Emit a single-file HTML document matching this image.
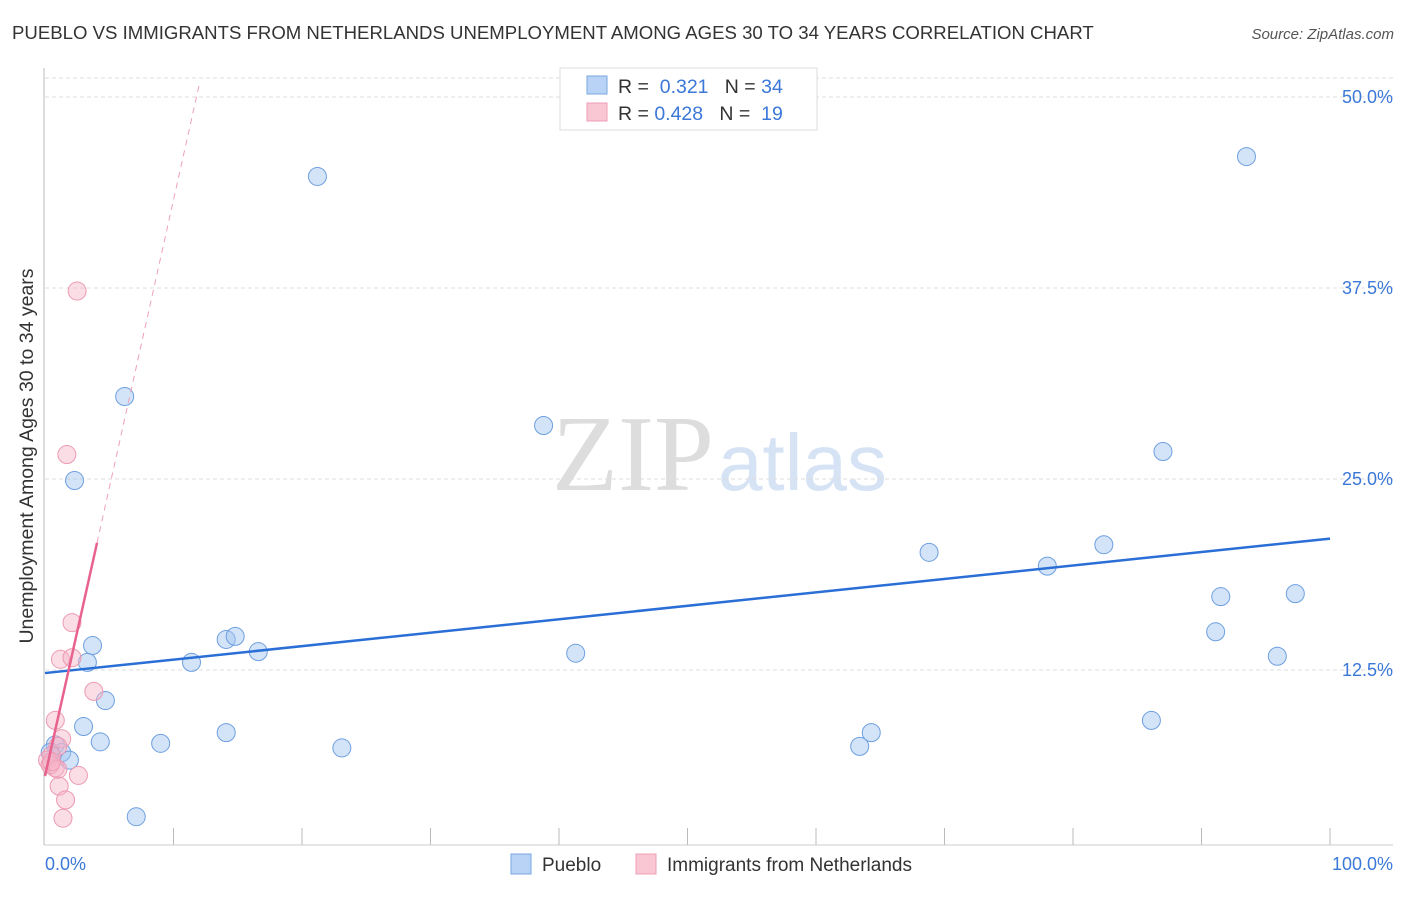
<!DOCTYPE html>
<html><head><meta charset="utf-8"><style>
body{margin:0;background:#fff;font-family:"Liberation Sans",sans-serif;}
svg text{font-family:"Liberation Sans",sans-serif;}
</style></head><body>
<svg width="1406" height="892">
<text x="12" y="39" font-size="18.6" fill="#333">PUEBLO VS IMMIGRANTS FROM NETHERLANDS UNEMPLOYMENT AMONG AGES 30 TO 34 YEARS CORRELATION CHART</text>
<text x="1394" y="39" font-size="15" fill="#555" font-style="italic" text-anchor="end">Source: ZipAtlas.com</text>
<text x="714" y="490" font-size="108" fill="#ddd" text-anchor="end" style="font-family:'Liberation Serif',serif">ZIP</text>
<text x="718" y="490" font-size="80" fill="#d5e3f5">atlas</text>
<g id="grid"></g>
<line x1="44" y1="68" x2="44" y2="845" stroke="#bbb"/>
<line x1="44" y1="845" x2="1393" y2="845" stroke="#ccc"/>
<text x="33" y="456" font-size="19.5" fill="#333" text-anchor="middle" transform="rotate(-90 33 456)">Unemployment Among Ages 30 to 34 years</text>
<text x="45" y="870" font-size="18" fill="#3b78d8">0.0%</text>
<text x="1393" y="870" font-size="18" fill="#3b78d8" text-anchor="end">100.0%</text>
<g id="marks"></g>
<g>
<rect x="560" y="68" width="257" height="62" fill="#fff" stroke="#ddd"/>
<rect x="587" y="76" width="20" height="18" fill="#b8d3f5" stroke="#7aa7e0"/>
<rect x="587" y="103" width="20" height="18" fill="#f9c6d4" stroke="#ee9fb5"/>
<text x="618" y="93" font-size="19.5" fill="#333">R = <tspan fill="#3b78d8">&#160;0.321</tspan>&#160;&#160;&#160;N = <tspan fill="#3b78d8">34</tspan></text>
<text x="618" y="120" font-size="19.5" fill="#333">R = <tspan fill="#3b78d8">0.428</tspan>&#160;&#160;&#160;N = <tspan fill="#3b78d8">&#160;19</tspan></text>
</g>
<g>
<rect x="511" y="854" width="20" height="20" fill="#b8d3f5" stroke="#7aa7e0"/>
<text x="542" y="871" font-size="19" fill="#333">Pueblo</text>
<rect x="636" y="854" width="20" height="20" fill="#f9c6d4" stroke="#ee9fb5"/>
<text x="667" y="871" font-size="19" fill="#333">Immigrants from Netherlands</text>
</g>
</svg>
<script>
const yTicks=[12.5,25,37.5,50];
const yTickLabels=["12.5%","25.0%","37.5%","50.0%"];
const xTicks=[10,20,30,40,50,60,70,80,90,100];
const blueX=[21.2,6.2,38.8,2.3,93.5,87.0,68.8,82.4,78.0,91.5,97.3,91.1,95.9,41.3,3.7,3.3,11.4,14.1,14.8,16.6,4.7,3.0,4.3,9.0,14.1,23.1,63.4,64.3,86.1,7.1,0.8,1.3,1.9,0.4];
const blueY=[44.8,30.4,28.5,24.9,46.1,26.8,20.2,20.7,19.3,17.3,17.5,15.0,13.4,13.6,14.1,13.0,13.0,14.5,14.7,13.7,10.5,8.8,7.8,7.7,8.4,7.4,7.5,8.4,9.2,2.9,7.6,7.1,6.6,7.1];
const pinkX=[2.5,1.7,2.1,1.2,2.1,3.8,0.8,1.3,1.0,0.5,0.2,0.8,0.4,1.0,2.6,1.1,1.6,1.4,0.5];
const pinkY=[37.3,26.6,15.6,13.2,13.3,11.1,9.2,8.0,7.5,6.9,6.6,6.1,6.3,6.0,5.6,4.9,4.0,2.8,6.5];
const blueFit=[12.3,21.1];
const pinkFit=[5.56,3.77];
const NS="http://www.w3.org/2000/svg";
const sx=v=>45+v*12.85, sy=v=>861-v*15.28;
function mk(t,a,p){const e=document.createElementNS(NS,t);for(const k in a)e.setAttribute(k,a[k]);p.appendChild(e);return e;}
const grid=document.getElementById('grid'), marks=document.getElementById('marks');
yTicks.forEach((t,i)=>{
 const l=mk('line',{x1:45,x2:1393,y1:sy(t),y2:sy(t),stroke:'#ddd','stroke-dasharray':'4,3'},grid);
 
 
 const tx=mk('text',{x:1393,y:sy(t)+6,'font-size':18,fill:'#3b78d8','text-anchor':'end'},grid);
 tx.textContent=yTickLabels[i];
 
 
});
const topLine=mk('line',{x1:45,x2:1393,y1:78,y2:78,stroke:'#ddd','stroke-dasharray':'4,3'},grid);


xTicks.forEach(t=>{
 const l=mk('line',{x1:sx(t),x2:sx(t),y1:828,y2:845,stroke:'#bbb'},grid);
 
 
});
blueX.forEach((x,i)=>{
 const c=mk('circle',{cx:sx(x),cy:sy(blueY[i]),r:9,fill:'rgba(160,196,240,0.45)',stroke:'#6d9fe0','stroke-width':1},marks);
 
 
});
pinkX.forEach((x,i)=>{
 const c=mk('circle',{cx:sx(x),cy:sy(pinkY[i]),r:9,fill:'rgba(246,180,200,0.45)',stroke:'#ec9ab2','stroke-width':1},marks);
 
 
});
const bl=mk('line',{x1:sx(0),y1:sy(blueFit[0]),x2:sx(100),y2:sy(blueFit[1]),stroke:'#2a6fd6','stroke-width':2.5},marks);


const pxEnd=4.05, pxDash=12.06;
const pl=mk('line',{x1:sx(0),y1:sy(pinkFit[0]),x2:sx(pxEnd),y2:sy(pinkFit[0]+pinkFit[1]*pxEnd),stroke:'#e8628e','stroke-width':2.5},marks);


const pd=mk('line',{x1:sx(pxEnd),y1:sy(pinkFit[0]+pinkFit[1]*pxEnd),x2:sx(pxDash),y2:sy(pinkFit[0]+pinkFit[1]*pxDash),stroke:'#eea0b8','stroke-width':1,'stroke-dasharray':'6,5'},marks);


</script>
</body></html>
